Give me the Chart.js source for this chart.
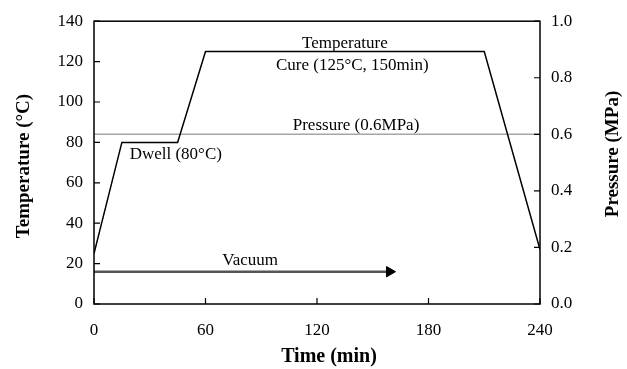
<!DOCTYPE html>
<html lang="en">
<head>
    <meta charset="UTF-8">
    <title>Cure cycle</title>
    <script src="https://cdn.jsdelivr.net/npm/chart.js"></script>
    <style>
        body {
            margin: 0;
            padding: 0;
            background: #fff;
        }
        canvas {
            display: block;
        }
    </style>
</head>
<body>

<canvas id="cureChart" width="627" height="369"></canvas>

<script>
    // Cure cycle (time in min, temperature in °C, pressure in MPa)
    const tempTime = [0, 15, 45, 60, 210, 240];
    const temperature = [25, 80, 80, 125, 125, 27];
    const pressureTime = [0, 240];
    const pressure = [0.6, 0.6];
    const vacuumTime = [0, 159];
    const vacuumLevel = [16, 16];   // drawn on the temperature axis

    const xTicks = [0, 60, 120, 180, 240];
    const tempTicks = [0, 20, 40, 60, 80, 100, 120, 140];
    const pressTicks = [0, 0.2, 0.4, 0.6, 0.8, 1.0];

    // text notes, placed in data units (x = min, y = °C)
    const noteText = ['Temperature', 'Cure (125°C, 150min)', 'Pressure (0.6MPa)', 'Dwell (80°C)', 'Vacuum'];
    const noteX = [135, 139, 141, 44, 84];
    const noteY = [129, 118, 88.5, 74, 21.5];

    const FONT = '"Liberation Serif", "Times New Roman", serif';

    function toPoints(xs, ys) {
        return xs.map((x, i) => ({ x: x, y: ys[i] }));
    }

    // frame, inward tick marks, notes and axis titles
    const decorPlugin = {
        id: 'decor',
        afterDraw(chart) {
            const ctx = chart.ctx;
            const a = chart.chartArea;
            const sx = chart.scales.x, sy = chart.scales.y, sy1 = chart.scales.y1;
            ctx.save();
            ctx.strokeStyle = '#000';
            ctx.lineWidth = 1.5;
            ctx.strokeRect(a.left, a.top, a.right - a.left, a.bottom - a.top);

            ctx.lineWidth = 1.2;
            ctx.beginPath();
            xTicks.forEach(v => {
                const px = sx.getPixelForValue(v);
                ctx.moveTo(px, a.bottom);
                ctx.lineTo(px, a.bottom - 6);
            });
            tempTicks.forEach(v => {
                const py = sy.getPixelForValue(v);
                ctx.moveTo(a.left, py);
                ctx.lineTo(a.left + 6, py);
            });
            pressTicks.forEach(v => {
                const py = sy1.getPixelForValue(v);
                ctx.moveTo(a.right, py);
                ctx.lineTo(a.right - 6, py);
            });
            ctx.stroke();

            ctx.fillStyle = '#000';
            ctx.font = '17px ' + FONT;
            ctx.textAlign = 'center';
            ctx.textBaseline = 'middle';
            noteText.forEach((t, i) => {
                ctx.fillText(t, sx.getPixelForValue(noteX[i]), sy.getPixelForValue(noteY[i]));
            });

            ctx.font = 'bold 20px ' + FONT;
            ctx.fillText('Time (min)', 329, 357);

            ctx.font = 'bold 19px ' + FONT;
            ctx.save();
            ctx.translate(24, 166);
            ctx.rotate(-Math.PI / 2);
            ctx.fillText('Temperature (°C)', 0, 0);
            ctx.restore();

            ctx.save();
            ctx.translate(613, 154);
            ctx.rotate(-Math.PI / 2);
            ctx.fillText('Pressure (MPa)', 0, 0);
            ctx.restore();
            ctx.restore();
        }
    };

    const ctx = document.getElementById('cureChart').getContext('2d');
    new Chart(ctx, {
        type: 'line',
        data: {
            datasets: [
                {
                    label: 'Temperature',
                    data: toPoints(tempTime, temperature),
                    borderColor: '#000',
                    borderWidth: 1.5,
                    pointRadius: 0,
                    yAxisID: 'y'
                },
                {
                    label: 'Pressure',
                    data: toPoints(pressureTime, pressure),
                    borderColor: '#a6a6a6',
                    borderWidth: 1.5,
                    pointRadius: 0,
                    yAxisID: 'y1'
                },
                {
                    label: 'Vacuum',
                    data: toPoints(vacuumTime, vacuumLevel),
                    borderColor: '#555',
                    borderWidth: 2.5,
                    pointRadius: [0, 6],
                    pointStyle: 'triangle',
                    pointRotation: 90,
                    pointBackgroundColor: '#000',
                    pointBorderColor: '#000',
                    pointBorderWidth: 1,
                    yAxisID: 'y'
                }
            ]
        },
        options: {
            responsive: false,
            animation: false,
            layout: { padding: { top: 18, left: 0, right: 0, bottom: 0 } },
            plugins: {
                legend: { display: false },
                tooltip: { enabled: false }
            },
            scales: {
                x: {
                    type: 'linear',
                    min: 0,
                    max: 240,
                    afterBuildTicks: s => { s.ticks = xTicks.map(v => ({ value: v })); },
                    afterFit: s => { s.height = 65; },
                    grid: { display: false, drawTicks: false },
                    border: { display: false },
                    ticks: {
                        padding: 16,
                        color: '#000',
                        font: { family: FONT, size: 17 }
                    }
                },
                y: {
                    position: 'left',
                    min: 0,
                    max: 140,
                    afterBuildTicks: s => { s.ticks = tempTicks.map(v => ({ value: v })); },
                    afterFit: s => { s.width = 94; },
                    grid: { display: false, drawTicks: false },
                    border: { display: false },
                    ticks: {
                        padding: 11,
                        color: '#000',
                        font: { family: FONT, size: 17 }
                    }
                },
                y1: {
                    position: 'right',
                    min: 0,
                    max: 1.0,
                    afterBuildTicks: s => { s.ticks = pressTicks.map(v => ({ value: v })); },
                    afterFit: s => { s.width = 87; },
                    grid: { display: false, drawTicks: false },
                    border: { display: false },
                    ticks: {
                        padding: 11,
                        color: '#000',
                        font: { family: FONT, size: 17 },
                        callback: v => v.toFixed(1)
                    }
                }
            }
        },
        plugins: [decorPlugin]
    });
</script>

</body>
</html>
